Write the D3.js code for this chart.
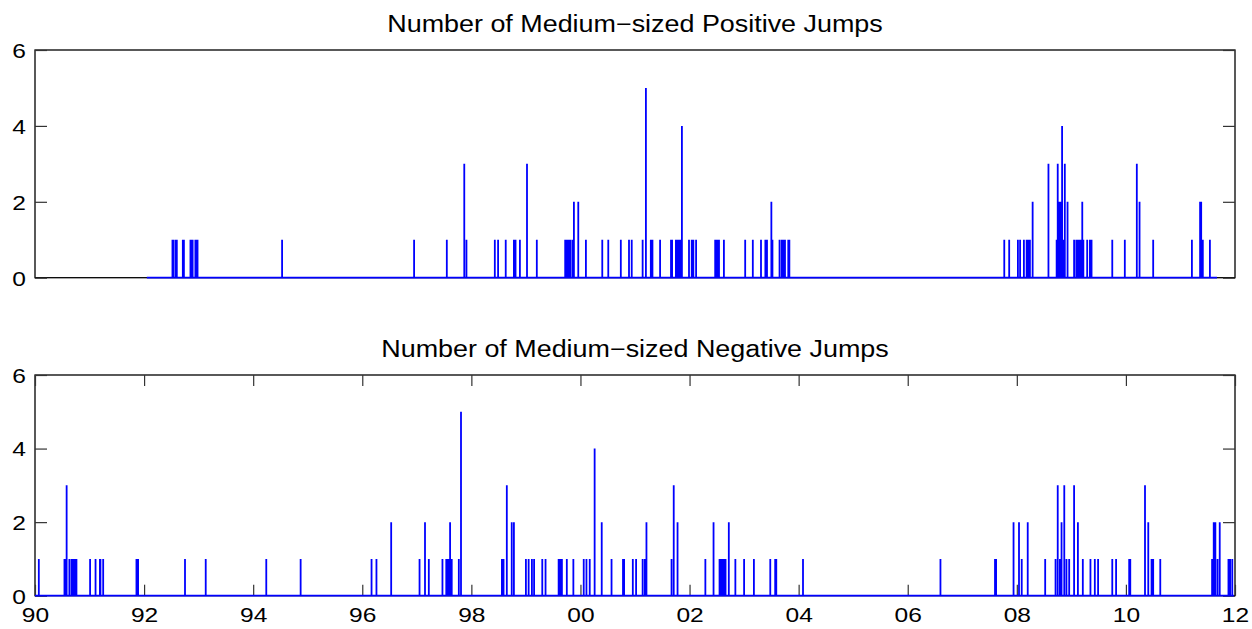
<!DOCTYPE html>
<html>
<head>
<meta charset="utf-8">
<script src="https://cdn.jsdelivr.net/npm/d3@7"></script>
<style>
  body { margin: 0; background: #fff; }
  svg { display: block; }
  text { font-family: "Liberation Sans", Arial, Helvetica, sans-serif; fill: #000; }
</style>
</head>
<body>
<svg></svg>
<script>
// decimal years of days with jumps, and number of jumps on that day
var posDates = [1992.52, 1992.54, 1992.58, 1992.60, 1992.71, 1992.73, 1992.85, 1992.87, 1992.89, 1992.94,
  1992.96, 1992.98, 1994.53, 1996.95, 1997.55, 1997.87, 1997.91, 1998.43, 1998.49, 1998.63,
  1998.78, 1998.81, 1998.89, 1999.02, 1999.20, 1999.72, 1999.75, 1999.78, 1999.81, 1999.85,
  1999.88, 1999.96, 2000.10, 2000.40, 2000.51, 2000.74, 2000.89, 2000.94, 2001.14, 2001.20,
  2001.29, 2001.32, 2001.46, 2001.66, 2001.68, 2001.75, 2001.78, 2001.81, 2001.83, 2001.86,
  2001.99, 2002.04, 2002.07, 2002.12, 2002.47, 2002.49, 2002.52, 2002.54, 2002.63, 2003.02,
  2003.16, 2003.31, 2003.39, 2003.42, 2003.50, 2003.52, 2003.65, 2003.69, 2003.72, 2003.75,
  2003.81, 2003.83, 2007.77, 2007.86, 2008.02, 2008.06, 2008.13, 2008.18, 2008.21, 2008.24,
  2008.29, 2008.58, 2008.73, 2008.75, 2008.77, 2008.80, 2008.83, 2008.86, 2008.88, 2008.93,
  2009.05, 2009.09, 2009.11, 2009.14, 2009.17, 2009.20, 2009.22, 2009.29, 2009.34, 2009.37,
  2009.75, 2009.98, 2010.20, 2010.25, 2010.50, 2011.21, 2011.36, 2011.38, 2011.41, 2011.54];
var posCounts = [1, 1, 1, 1, 1, 1, 1, 1, 1, 1,
  1, 1, 1, 1, 1, 3, 1, 1, 1, 1,
  1, 1, 1, 3, 1, 1, 1, 1, 1, 1,
  2, 2, 1, 1, 1, 1, 1, 1, 1, 5,
  1, 1, 1, 1, 1, 1, 1, 1, 1, 4,
  1, 1, 1, 1, 1, 1, 1, 1, 1, 1,
  1, 1, 1, 1, 2, 1, 1, 1, 1, 1,
  1, 1, 1, 1, 1, 1, 1, 1, 1, 1,
  2, 3, 1, 3, 2, 2, 4, 1, 3, 2,
  1, 1, 1, 1, 1, 2, 1, 1, 1, 1,
  1, 1, 3, 2, 1, 1, 2, 2, 1, 1];
var posRange = [1992.05, 2011.67];

var negDates = [1990.07, 1990.54, 1990.56, 1990.58, 1990.63, 1990.67, 1990.69, 1990.72, 1990.74, 1990.76,
  1991.01, 1991.11, 1991.19, 1991.20, 1991.25, 1991.86, 1991.89, 1992.75, 1993.13, 1994.24,
  1994.87, 1996.17, 1996.26, 1996.53, 1997.05, 1997.15, 1997.22, 1997.47, 1997.54, 1997.57,
  1997.59, 1997.61, 1997.64, 1997.77, 1997.81, 1998.56, 1998.59, 1998.65, 1998.74, 1998.78,
  1999.00, 1999.05, 1999.11, 1999.15, 1999.30, 1999.36, 1999.60, 1999.63, 1999.66, 1999.75,
  1999.87, 2000.06, 2000.11, 2000.17, 2000.26, 2000.39, 2000.57, 2000.78, 2000.80, 2000.96,
  2001.02, 2001.14, 2001.18, 2001.21, 2001.67, 2001.71, 2001.78, 2002.29, 2002.44, 2002.55,
  2002.58, 2002.60, 2002.63, 2002.66, 2002.72, 2002.84, 2003.00, 2003.18, 2003.48, 2003.57,
  2003.59, 2004.08, 2006.60, 2007.60, 2007.62, 2007.94, 2008.04, 2008.09, 2008.20, 2008.52,
  2008.71, 2008.75, 2008.79, 2008.82, 2008.87, 2008.91, 2008.96, 2009.05, 2009.12, 2009.21,
  2009.35, 2009.43, 2009.49, 2009.75, 2009.82, 2010.06, 2010.08, 2010.35, 2010.41, 2010.47,
  2010.50, 2010.63, 2011.58, 2011.61, 2011.64, 2011.68, 2011.72, 2011.88, 2011.91, 2011.95];
var negCounts = [1, 1, 1, 3, 1, 1, 1, 1, 1, 1,
  1, 1, 1, 1, 1, 1, 1, 1, 1, 1,
  1, 1, 1, 2, 1, 2, 1, 1, 1, 1,
  1, 2, 1, 1, 5, 1, 1, 3, 2, 2,
  1, 1, 1, 1, 1, 1, 1, 1, 1, 1,
  1, 1, 1, 1, 4, 2, 1, 1, 1, 1,
  1, 1, 1, 2, 1, 3, 2, 1, 2, 1,
  1, 1, 1, 1, 2, 1, 1, 1, 1, 1,
  1, 1, 1, 1, 1, 2, 2, 1, 2, 1,
  1, 3, 1, 2, 3, 1, 1, 3, 2, 1,
  1, 1, 1, 1, 1, 1, 1, 3, 2, 1,
  1, 1, 1, 2, 2, 1, 2, 1, 1, 1];
var negRange = [1990.0, 2011.98];

var xTickYears = [1990, 1992, 1994, 1996, 1998, 2000, 2002, 2004, 2006, 2008, 2010, 2012];
var xTickLabels = ["90", "92", "94", "96", "98", "00", "02", "04", "06", "08", "10", "12"];
var yTicks = [0, 2, 4, 6];

var width = 1252;
var height = 629;
var stretch = 1.17;   // glyphs in the picture are a bit wider than normal

var svg = d3.select("svg")
    .attr("width", width)
    .attr("height", height);

var x = d3.scaleLinear()
    .domain([1990, 2012])
    .range([35, 1235]);

var panels = [
  { title: "Number of Medium\u2212sized Positive Jumps", dates: posDates, counts: posCounts,
    span: posRange, top: 50, bottom: 277.7, titleY: 32, showX: false },
  { title: "Number of Medium\u2212sized Negative Jumps", dates: negDates, counts: negCounts,
    span: negRange, top: 375, bottom: 595.7, titleY: 357, showX: true }
];

panels.forEach(drawPanel);

function drawPanel(p) {
  var y = d3.scaleLinear()
      .domain([0, 6])
      .range([p.bottom, p.top]);

  var g = svg.append("g");

  // axes box
  g.append("rect")
      .attr("x", x.range()[0])
      .attr("y", p.top)
      .attr("width", x.range()[1] - x.range()[0])
      .attr("height", p.bottom - p.top)
      .attr("fill", "none")
      .attr("stroke", "#000")
      .attr("stroke-width", 1.3);

  var left = g.append("g")
      .attr("transform", `translate(${x.range()[0]},0)`)
      .call(d3.axisLeft(y).tickValues(yTicks).tickSize(-12).tickPadding(7.7).tickFormat(d3.format("d")));
  styleAxis(left);
  left.selectAll("text")
      .attr("dy", null)
      .attr("dominant-baseline", "central")
      .attr("transform", `scale(${stretch},1)`);

  var right = g.append("g")
      .attr("transform", `translate(${x.range()[1]},0)`)
      .call(d3.axisRight(y).tickValues(yTicks).tickSize(-12).tickFormat(""));
  styleAxis(right);

  if (p.showX) {
    var bottomAxis = g.append("g")
        .attr("transform", `translate(0,${p.bottom})`)
        .call(d3.axisBottom(x).tickValues(xTickYears).tickSize(-11).tickPadding(11.5)
          .tickFormat((d, i) => xTickLabels[i]));
    styleAxis(bottomAxis);
    bottomAxis.selectAll("text")
        .attr("transform", `scale(${stretch},1)`);

    var topAxis = g.append("g")
        .attr("transform", `translate(0,${p.top})`)
        .call(d3.axisTop(x).tickValues(xTickYears).tickSize(-11).tickFormat(""));
    styleAxis(topAxis);
  }

  // the series: zero baseline with a spike on each jump day
  var pts = [[p.span[0], 0]];
  p.dates.forEach((d, i) => {
    pts.push([d, 0], [d, p.counts[i]], [d, 0]);
  });
  pts.push([p.span[1], 0]);

  var line = d3.line()
      .x(d => x(d[0]))
      .y(d => y(d[1]));

  g.append("path")
      .datum(pts)
      .attr("d", line)
      .attr("fill", "none")
      .attr("stroke", "#0000ff")
      .attr("stroke-width", 1.8);

  g.append("text")
      .attr("transform", `translate(${(x.range()[0] + x.range()[1]) / 2},${p.titleY}) scale(${stretch},1)`)
      .attr("text-anchor", "middle")
      .style("font-size", "23px")
      .text(p.title);
}

function styleAxis(sel) {
  sel.select(".domain").remove();
  sel.selectAll(".tick line")
      .attr("stroke", "#333")
      .attr("stroke-width", 1.2);
  sel.selectAll("text")
      .attr("fill", "#000")
      .style("font-size", "21px")
      .style("font-family", "'Liberation Sans', Arial, Helvetica, sans-serif");
}
</script>
</body>
</html>
